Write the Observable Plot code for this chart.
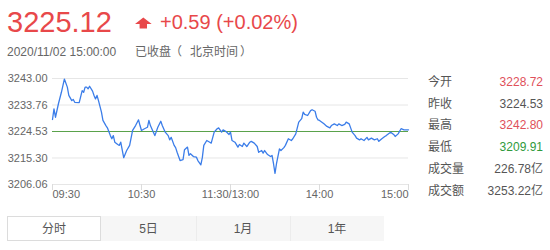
<!DOCTYPE html>
<html><head><meta charset="utf-8">
<script src="https://cdn.jsdelivr.net/npm/d3@7"></script>
<script src="https://cdn.jsdelivr.net/npm/@observablehq/plot@0.6"></script>
<style>
html,body{margin:0;padding:0;background:#fff;}
#root{position:relative;width:550px;height:250px;overflow:hidden;font-family:"Liberation Sans",Arial,"Noto Sans CJK SC",sans-serif;}
#chart{position:absolute;left:0;top:60px;}
#overlay{position:absolute;left:0;top:0;}
</style></head><body>
<div id="root"><div id="chart"></div><svg id="overlay" width="550" height="250"></svg></div>
<script>
// trading minutes since 09:30 (lunch break removed; 120 = 11:30/13:00)
const minutes = [0,1,2,4,6,8,10,11,13,14,15,18,20,21,22,23,24,25,27,28,29,30,31,33,34,36,37,39,40,41,42,44,45,46,48,50,52,54,56,58,59,60,62,64,65,66,68,69,71,73,74,76,78,79,80,82,83,84,86,88,89,91,92,93,95,97,98,100,101,102,104,106,107,109,111,112,114,115,117,119,120,
121,123,125,126,128,129,131,133,134,136,138,139,141,142,143,145,147,148,149,150,151,153,154,156,157,159,161,162,164,166,168,169,170,172,174,175,177,178,179,180,183,185,187,188,190,192,193,195,197,198,200,201,202,204,205,207,208,210,212,213,215,217,219,220,222,224,225,227,228,230,231,233,235,237,238,240];
const prices = [3228.72,3232.4,3229.5,3234.2,3238.2,3242.8,3240.0,3237.1,3235.3,3235.7,3234.7,3234.6,3238.8,3238.2,3240.0,3240.0,3239.4,3240.3,3238.6,3237.1,3235.9,3237.1,3235.3,3231.3,3228.4,3226.6,3225.8,3223.1,3222.0,3223.1,3220.8,3220.0,3219.7,3220.8,3215.4,3217.9,3219.7,3224.9,3226.6,3228.6,3226.6,3224.9,3225.5,3226.0,3228.4,3226.6,3224.3,3223.1,3226.0,3228.1,3226.6,3224.3,3223.1,3221.6,3222.5,3219.7,3218.9,3217.3,3214.4,3214.7,3218.2,3219.1,3216.2,3216.8,3215.8,3215.6,3214.4,3212.9,3215.4,3219.7,3221.4,3220.8,3220.5,3224.3,3225.5,3225.8,3224.3,3225.1,3224.5,3223.5,3224.3,
3221.4,3220.8,3219.1,3220.0,3219.3,3220.5,3219.3,3220.8,3221.1,3220.5,3219.3,3217.3,3217.9,3217.0,3217.9,3216.5,3215.8,3216.2,3213.3,3209.91,3213.3,3218.5,3217.9,3218.9,3219.7,3222.0,3221.4,3222.0,3223.7,3227.8,3229.0,3231.3,3230.5,3230.1,3231.8,3232.1,3231.6,3229.5,3228.6,3228.4,3227.2,3226.3,3225.8,3226.6,3227.2,3226.6,3227.2,3226.6,3227.0,3227.8,3227.2,3225.8,3224.3,3223.1,3222.2,3221.6,3222.0,3221.4,3222.5,3221.6,3222.2,3221.6,3222.0,3221.1,3222.0,3222.8,3223.1,3223.9,3224.3,3223.5,3222.8,3223.7,3225.5,3225.1,3225.1,3225.12];
const yTicks = [3243.00, 3233.76, 3224.53, 3215.30, 3206.06];
const xTicks = [0, 60, 120, 180, 240];
const xTickLabels = ["09:30", "10:30", "11:30/13:00", "14:00", "15:00"];
const prevClose = 3224.53;
const lastPrice = "3225.12";
const change = "+0.59 (+0.02%)";
const timestamp = "2020/11/02 15:00:00";
const statusText = "已收盘";
const tzText = ["（", "北京时间", "）"];
const statLabels = ["今开", "昨收", "最高", "最低", "成交量", "成交额"];
const statValues = ["3228.72", "3224.53", "3242.80", "3209.91", "226.78亿", "3253.22亿"];
const tabLabels = ["分时", "5日", "1月", "1年"];

const FONT = '"Liberation Sans", Arial, "Noto Sans CJK SC", sans-serif';
const RED = "#e8484a", GREEN = "#2f9a3c", GRAY = "#666";

const data = minutes.map((t, i) => ({t, v: prices[i]}));
const labelOf = d => xTickLabels[xTicks.indexOf(d)];

const plot = Plot.plot({
  width: 420, height: 150,
  marginLeft: 52, marginRight: 12, marginTop: 18, marginBottom: 26,
  x: {domain: [0, 240]},
  y: {domain: [yTicks[4], yTicks[0]]},
  style: {background: "transparent", fontFamily: FONT, fontSize: "11px", overflow: "visible", color: GRAY},
  marks: [
    Plot.ruleY(yTicks, {stroke: "#e6e6e6"}),
    Plot.axisY({ticks: yTicks, tickSize: 0, tickPadding: 5, tickFormat: d => d.toFixed(2), fill: GRAY, label: null}),
    Plot.axisX({ticks: xTicks, tickSize: 6, tickFormat: () => "", stroke: "#dcdcdc", label: null}),
    Plot.ruleY([prevClose], {stroke: "#5aa24b", strokeWidth: 1}),
    Plot.line(data, {x: "t", y: "v", stroke: "#3b7de9", strokeWidth: 1.3}),
    Plot.text([xTicks[0]], {x: d => d, y: yTicks[4], text: labelOf, textAnchor: "start", dy: 10, fill: GRAY}),
    Plot.text(xTicks.slice(1, 4), {x: d => d, y: yTicks[4], text: labelOf, textAnchor: "middle", dy: 10, fill: GRAY}),
    Plot.text([xTicks[4]], {x: d => d, y: yTicks[4], text: labelOf, textAnchor: "end", dy: 10, fill: GRAY})
  ]
});
document.getElementById("chart").appendChild(plot);

const svg = d3.select("#overlay").style("font-family", FONT);
// header
svg.append("text").attr("x", 7).attr("y", 31.5).attr("font-size", 29).attr("fill", RED).text(lastPrice);
svg.append("polygon").attr("points", "143.3,17.5 151.7,24 147,24 147,28.5 139.6,28.5 139.6,24 135,24").attr("fill", RED);
svg.append("text").attr("x", 160).attr("y", 28.5).attr("font-size", 20).attr("fill", RED).text(change);
svg.append("text").attr("x", 7).attr("y", 56).attr("font-size", 12).attr("fill", GRAY).text(timestamp);
svg.append("text").attr("x", 135).attr("y", 56).attr("font-size", 12).attr("fill", GRAY).text(statusText);
[[170, tzText[0]], [190, tzText[1]], [240, tzText[2]]].forEach(([x, s]) =>
  svg.append("text").attr("x", x).attr("y", 56).attr("font-size", 12).attr("fill", GRAY).text(s));

// stats panel
const colorOf = (i) => {
  if (i > 3) return "#555";
  const v = +statValues[i];
  return v > prevClose ? "#e0505a" : v < prevClose ? GREEN : "#555";
};
statLabels.forEach((lab, i) => {
  const y = 86 + i * 21.7;
  svg.append("text").attr("x", 428).attr("y", y).attr("font-size", 12).attr("fill", "#555").text(lab);
  svg.append("text").attr("x", 543).attr("y", y).attr("font-size", 12).attr("text-anchor", "end").attr("fill", colorOf(i)).text(statValues[i]);
});

// tabs
const tabX = [7, 101, 196, 290, 384];
svg.append("rect").attr("x", tabX[1]).attr("y", 216).attr("width", tabX[4] - tabX[1]).attr("height", 25).attr("fill", "#f6f6f6");
tabLabels.forEach((lab, i) => {
  if (i === 0) svg.append("rect").attr("x", tabX[0] + 0.5).attr("y", 216.5).attr("width", tabX[1] - tabX[0] - 1).attr("height", 24).attr("fill", "#fff").attr("stroke", "#dcdcdc");
  else if (i > 1) svg.append("line").attr("x1", tabX[i] + 0.5).attr("x2", tabX[i] + 0.5).attr("y1", 216).attr("y2", 241).attr("stroke", "#ececec");
  svg.append("text").attr("x", (tabX[i] + tabX[i + 1]) / 2).attr("y", 232.5).attr("text-anchor", "middle").attr("font-size", 12).attr("fill", "#555").text(lab);
});
</script>
</body></html>
